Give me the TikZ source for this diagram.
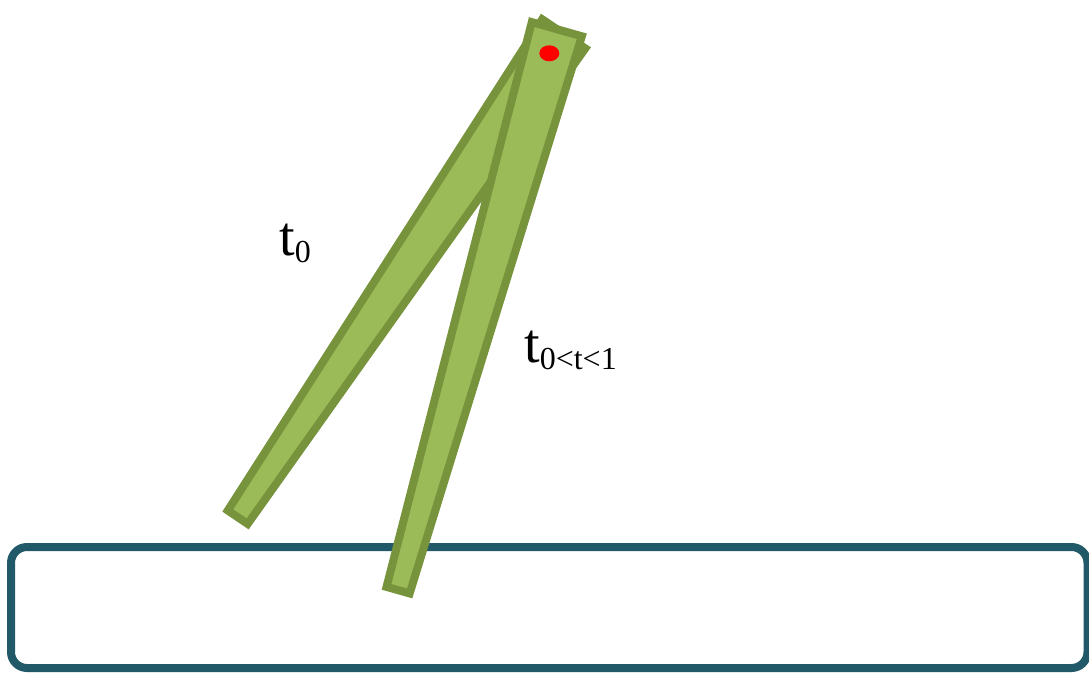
\documentclass[tikz,border=0pt]{standalone}
\usepackage{fontspec}
\setmainfont{Liberation Serif}
\definecolor{barfill}{RGB}{155,187,89}
\definecolor{barline}{RGB}{119,147,60}
\definecolor{boxline}{RGB}{33,89,104}
\tikzset{
  bar/.style={fill=barfill,draw=barline,line width=8pt,line join=miter},
  boxstyle/.style={draw=boxline,line width=8pt,rounded corners=16pt},
  lbl/.style={inner sep=0pt,anchor=base west,font=\fontsize{56}{56}\selectfont}
}
\newcommand{\subtxt}[1]{\raisebox{-7pt}{\fontsize{32}{32}\selectfont #1}}
\begin{document}
\begin{tikzpicture}[x=1pt,y=1pt]
\useasboundingbox (0,0) rectangle (1089,673);
\fill[white] (0,0) rectangle (1089,673);
% ground box
\begin{scope}
\clip (0,0) rectangle (1089,673);
\draw[boxstyle] (11,5) rectangle (1087.5,126);
\end{scope}
% bar at t0
\begin{scope}[shift={(235.5,152.5)},rotate=-34.0]
  \draw[bar] (-12,4) -- (12,4) -- (26,587) -- (-26,587) -- cycle;
\end{scope}
% bar at 0<t<1
\begin{scope}[shift={(397,79)},rotate=-15.8]
  \draw[bar] (-12,4) -- (12,4) -- (26,587) -- (-26,587) -- cycle;
\end{scope}
% pivot
\fill[red] (549.3,619.7) ellipse [x radius=10, y radius=8];
% labels
\node[lbl] (l0) at (279,417) {t\subtxt{0}};
\node[lbl] (l1) at (524,311) {t\subtxt{0<t<1}};
\end{tikzpicture}
\end{document}
